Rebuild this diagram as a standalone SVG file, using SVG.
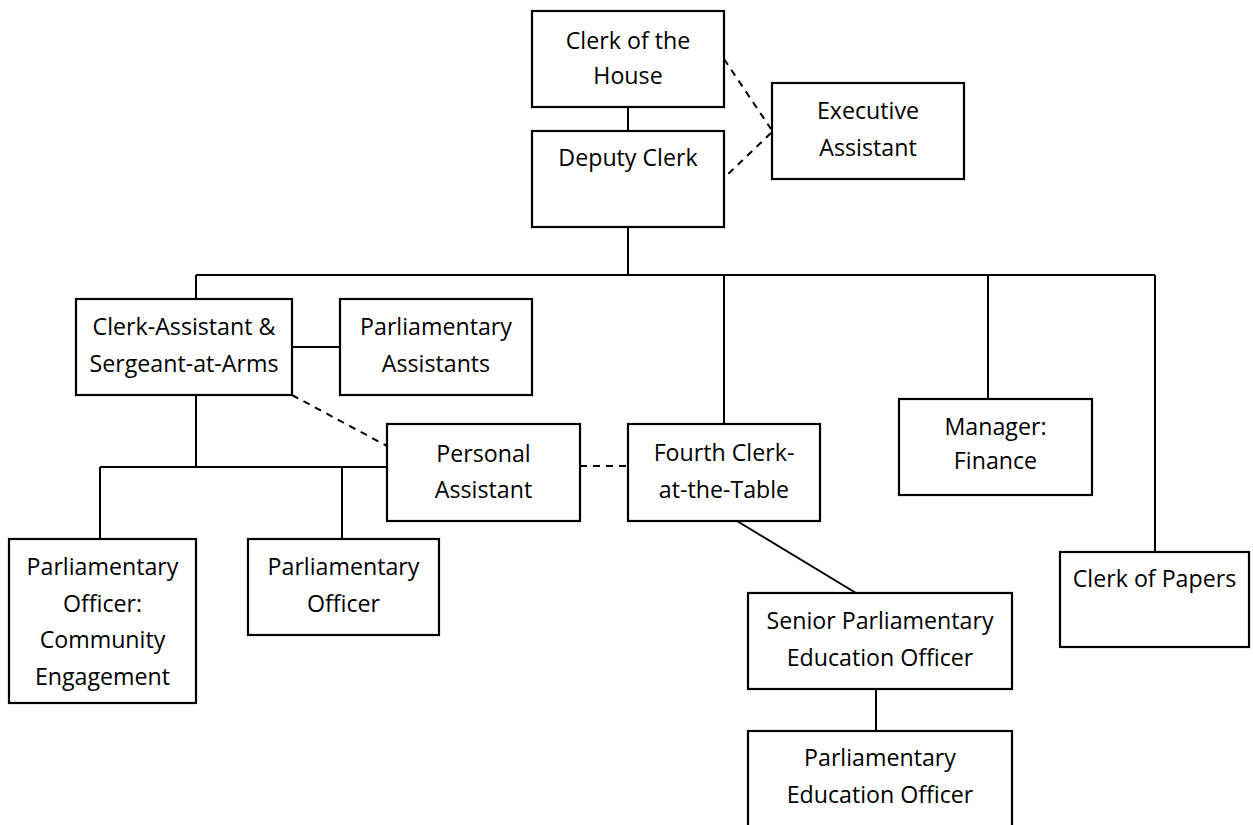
<svg xmlns="http://www.w3.org/2000/svg" width="1253" height="825" viewBox="0 0 1253 825">
<style>
.box{fill:#fff;stroke:#000;stroke-width:2.2}
.t{font-family:"Open Sans","Noto Sans","Liberation Sans",sans-serif;font-size:23.2px;fill:#000;text-anchor:middle}
.ln{stroke:#000;stroke-width:2;fill:none}
.dash{stroke:#000;stroke-width:2;fill:none;stroke-dasharray:7 6}
</style>
<rect width="1253" height="825" fill="#fff"/>
<g id="connectors">
<line class="ln" x1="628" y1="107" x2="628" y2="131"/>
<line class="ln" x1="628" y1="227" x2="628" y2="275"/>
<line class="ln" x1="196" y1="275" x2="1155" y2="275"/>
<line class="ln" x1="196" y1="275" x2="196" y2="299"/>
<line class="ln" x1="724" y1="275" x2="724" y2="424"/>
<line class="ln" x1="988" y1="275" x2="988" y2="399"/>
<line class="ln" x1="1155" y1="275" x2="1155" y2="552"/>
<line class="ln" x1="292" y1="347" x2="340" y2="347"/>
<line class="ln" x1="196" y1="395" x2="196" y2="467"/>
<line class="ln" x1="100" y1="467" x2="387" y2="467"/>
<line class="ln" x1="100" y1="467" x2="100" y2="539"/>
<line class="ln" x1="342" y1="467" x2="342" y2="539"/>
<line class="ln" x1="737" y1="521" x2="856" y2="593"/>
<line class="ln" x1="876" y1="689" x2="876" y2="731"/>
<line class="dash" x1="724" y1="59" x2="771" y2="129"/>
<line class="dash" x1="771" y1="133" x2="724" y2="178"/>
<line class="dash" x1="292" y1="395" x2="387" y2="446"/>
<line class="dash" x1="580" y1="466" x2="628" y2="466"/>
</g>
<g id="clerk-house"><rect class="box" x="532" y="11" width="192" height="96"/><text class="t" x="628" y="49">Clerk of the</text><text class="t" x="628" y="84">House</text></g>
<g id="deputy-clerk"><rect class="box" x="532" y="131" width="192" height="96"/><text class="t" x="628" y="166">Deputy Clerk</text></g>
<g id="executive-assistant"><rect class="box" x="772" y="83" width="192" height="96"/><text class="t" x="868" y="119">Executive</text><text class="t" x="868" y="156">Assistant</text></g>
<g id="clerk-assistant"><rect class="box" x="76" y="299" width="216" height="96"/><text class="t" x="184" y="335">Clerk-Assistant &amp;</text><text class="t" x="184" y="372">Sergeant-at-Arms</text></g>
<g id="parliamentary-assistants"><rect class="box" x="340" y="299" width="192" height="96"/><text class="t" x="436" y="335">Parliamentary</text><text class="t" x="436" y="372">Assistants</text></g>
<g id="personal-assistant"><rect class="box" x="387" y="424" width="193" height="97"/><text class="t" x="483.5" y="462">Personal</text><text class="t" x="483.5" y="498">Assistant</text></g>
<g id="fourth-clerk"><rect class="box" x="628" y="424" width="192" height="97"/><text class="t" x="724" y="461">Fourth Clerk-</text><text class="t" x="724" y="498">at-the-Table</text></g>
<g id="manager-finance"><rect class="box" x="899" y="399" width="193" height="96"/><text class="t" x="995.5" y="435">Manager:</text><text class="t" x="995.5" y="469">Finance</text></g>
<g id="clerk-papers"><rect class="box" x="1060" y="552" width="189" height="95"/><text class="t" x="1154.5" y="587">Clerk of Papers</text></g>
<g id="community-officer"><rect class="box" x="9" y="539" width="187" height="164"/><text class="t" x="102.5" y="575">Parliamentary</text><text class="t" x="102.5" y="612">Officer:</text><text class="t" x="102.5" y="648">Community</text><text class="t" x="102.5" y="685">Engagement</text></g>
<g id="parliamentary-officer"><rect class="box" x="248" y="539" width="191" height="96"/><text class="t" x="343.5" y="575">Parliamentary</text><text class="t" x="343.5" y="612">Officer</text></g>
<g id="senior-education-officer"><rect class="box" x="748" y="593" width="264" height="96"/><text class="t" x="880" y="629">Senior Parliamentary</text><text class="t" x="880" y="666">Education Officer</text></g>
<g id="education-officer"><rect class="box" x="748" y="731" width="264" height="100"/><text class="t" x="880" y="766">Parliamentary</text><text class="t" x="880" y="803">Education Officer</text></g>
</svg>
